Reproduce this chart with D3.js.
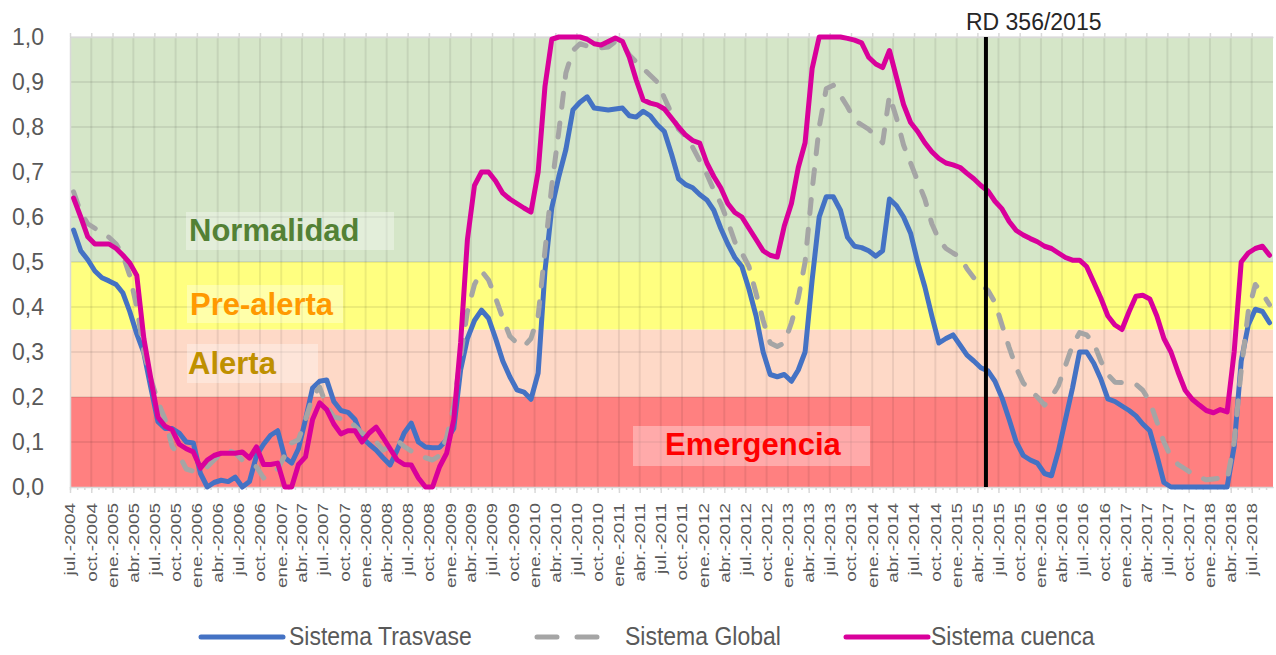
<!DOCTYPE html>
<html lang="es">
<head>
<meta charset="UTF-8">
<title>Indicadores de estado - Sistema Tajo-Segura</title>
<script src="https://d3js.org/d3.v7.min.js"></script>
<style>
  body { margin: 0; background: #fff; }
  svg text { font-family: "Liberation Sans", Arial, sans-serif; }
  .axis text { fill: #595959; }
  .axis path, .axis line { stroke: #d9d9d9; }
</style>
</head>
<body>
<svg width="1276" height="655"></svg>
<script>
// --- data -----------------------------------------------------------
const startMonth = new Date(2004, 6, 1);   // jul-2004
const endMonth = new Date(2018, 9, 1);     // axis ends after sep-2018
const monthAbbr = ["ene.", "feb.", "mar.", "abr.", "may.", "jun.",
                   "jul.", "ago.", "sept.", "oct.", "nov.", "dic."];
const yTicks = [0, 0.1, 0.2, 0.3, 0.4, 0.5, 0.6, 0.7, 0.8, 0.9, 1.0];
const levels = [0, 0.2, 0.35, 0.5, 1.0];
const levelNames = ["Emergencia", "Alerta", "Pre-alerta", "Normalidad"];
const rdDate = new Date(2015, 4, 8);
const rdLabel = "RD 356/2015";
const seriesNames = ["Sistema Trasvase", "Sistema Global", "Sistema cuenca"];

// monthly values, jul-2004 .. sep-2018
const trasvase = [
  0.571, 0.525, 0.505, 0.48, 0.465, 0.458, 0.45, 0.431, 0.39, 0.34, 0.298, 0.22,
  0.145, 0.13, 0.13, 0.12, 0.10, 0.098, 0.03, 0.0, 0.01, 0.015, 0.012, 0.022,
  0.0, 0.012, 0.07, 0.095, 0.115, 0.125, 0.065, 0.053, 0.085, 0.15, 0.22, 0.235,
  0.238, 0.19, 0.17, 0.166, 0.15, 0.11, 0.095, 0.082, 0.065, 0.049, 0.082, 0.12,
  0.142, 0.10, 0.089, 0.087, 0.088, 0.105, 0.13, 0.26, 0.33, 0.37, 0.393, 0.375,
  0.33, 0.28, 0.245, 0.216, 0.211, 0.195, 0.253, 0.48, 0.62, 0.69, 0.75, 0.838,
  0.855, 0.867, 0.842, 0.84, 0.838, 0.84, 0.842, 0.825, 0.822, 0.835, 0.825, 0.805,
  0.79, 0.74, 0.685, 0.672, 0.665, 0.65, 0.638, 0.615, 0.575, 0.54, 0.51, 0.49,
  0.44, 0.38, 0.30, 0.25, 0.245, 0.25, 0.235, 0.26, 0.30, 0.46, 0.60, 0.645,
  0.645, 0.615, 0.555, 0.535, 0.532, 0.525, 0.513, 0.525, 0.64, 0.625, 0.60, 0.564,
  0.50, 0.445, 0.38, 0.32, 0.33, 0.338, 0.315, 0.293, 0.28, 0.265, 0.258, 0.235,
  0.198, 0.15, 0.10, 0.07, 0.06, 0.053, 0.03, 0.025, 0.08, 0.15, 0.22, 0.30,
  0.30, 0.275, 0.24, 0.196, 0.19, 0.18, 0.17, 0.158, 0.14, 0.125, 0.07, 0.01,
  0, 0, 0, 0, 0, 0, 0, 0, 0, 0.09, 0.28, 0.36,
  0.395, 0.39, 0.365
];
const sistemaGlobal = [
  0.656, 0.61, 0.585, 0.575, 0.565, 0.555, 0.54, 0.515, 0.47, 0.40, 0.30, 0.24,
  0.19, 0.15, 0.09, 0.07, 0.04, 0.035, 0.04, 0.045, 0.06, 0.075, 0.082, 0.075,
  0.06, 0.05, 0.045, 0.02, 0.03, 0.04, 0.07, 0.098, 0.105, 0.15, 0.20, 0.222,
  0.18, 0.156, 0.152, 0.15, 0.135, 0.12, 0.111, 0.10, 0.082, 0.09, 0.104, 0.09,
  0.08, 0.07, 0.065, 0.06, 0.07, 0.11, 0.18, 0.29, 0.39, 0.45, 0.48, 0.46,
  0.42, 0.375, 0.335, 0.32, 0.312, 0.33, 0.38, 0.525, 0.67, 0.79, 0.92, 0.97,
  0.985, 0.98, 0.976, 0.976, 0.978, 0.99, 0.985, 0.96, 0.945, 0.93, 0.915, 0.90,
  0.865, 0.83, 0.795, 0.78, 0.755, 0.725, 0.695, 0.66, 0.63, 0.59, 0.545, 0.52,
  0.49, 0.43, 0.37, 0.32, 0.312, 0.32, 0.365, 0.42, 0.50, 0.66, 0.80, 0.885,
  0.893, 0.87, 0.845, 0.815, 0.805, 0.795, 0.78, 0.765, 0.87, 0.82, 0.76, 0.72,
  0.68, 0.64, 0.585, 0.55, 0.53, 0.52, 0.511, 0.485, 0.465, 0.45, 0.437, 0.41,
  0.36, 0.31, 0.265, 0.231, 0.215, 0.20, 0.182, 0.20, 0.225, 0.27, 0.315, 0.343,
  0.338, 0.32, 0.28, 0.25, 0.233, 0.232, 0.231, 0.228, 0.215, 0.19, 0.145, 0.10,
  0.067, 0.05, 0.04, 0.03, 0.022, 0.016, 0.018, 0.02, 0.016, 0.10, 0.26, 0.39,
  0.45, 0.43, 0.405
];
const cuenca = [
  0.642, 0.60, 0.556, 0.54, 0.54, 0.54, 0.53, 0.515, 0.498, 0.47, 0.33, 0.24,
  0.155, 0.135, 0.127, 0.095, 0.085, 0.078, 0.042, 0.06, 0.07, 0.075, 0.075, 0.075,
  0.078, 0.064, 0.089, 0.05, 0.05, 0.053, 0.0, 0.0, 0.05, 0.067, 0.15, 0.187,
  0.172, 0.14, 0.118, 0.125, 0.125, 0.10, 0.12, 0.133, 0.11, 0.085, 0.06, 0.05,
  0.049, 0.02, 0.0, 0.0, 0.045, 0.075, 0.15, 0.32, 0.55, 0.67, 0.70, 0.70,
  0.68, 0.653, 0.64, 0.63, 0.62, 0.611, 0.70, 0.89, 0.995, 1.0, 1.0, 1.0,
  1.0, 0.995, 0.985, 0.982, 0.99, 0.998, 0.99, 0.955, 0.905, 0.86, 0.853, 0.849,
  0.84, 0.82, 0.80, 0.782, 0.77, 0.764, 0.72, 0.69, 0.665, 0.63, 0.61, 0.60,
  0.575, 0.55, 0.525, 0.515, 0.511, 0.58, 0.63, 0.71, 0.765, 0.93, 1.0, 1.0,
  1.0, 1.0, 0.997, 0.993, 0.987, 0.955, 0.94, 0.932, 0.97, 0.91, 0.85, 0.81,
  0.79, 0.765, 0.745, 0.73, 0.72, 0.716, 0.71, 0.697, 0.685, 0.67, 0.658, 0.635,
  0.618, 0.59, 0.57, 0.56, 0.552, 0.545, 0.535, 0.53, 0.52, 0.51, 0.504, 0.504,
  0.49, 0.455, 0.42, 0.38, 0.36, 0.35, 0.39, 0.424, 0.426, 0.418, 0.38, 0.33,
  0.30, 0.255, 0.215, 0.195, 0.182, 0.17, 0.165, 0.172, 0.167, 0.30, 0.50, 0.52,
  0.53, 0.535, 0.515
];

// --- layout ---------------------------------------------------------
const svg = d3.select("svg");
const m = { left: 70, top: 37, right: 1273, bottom: 487 };

const x = d3.scaleTime().domain([startMonth, endMonth]).range([m.left, m.right]);
const y = d3.scaleLinear().domain([0, 1]).range([m.bottom, m.top]);

const months = d3.timeMonths(startMonth, endMonth);
const quarters = months.filter(d => d.getMonth() % 3 === 0);
const midMonth = d => new Date((+d + +d3.timeMonth.offset(d, 1)) / 2);

const bandColors = ["#ff8080", "#fed9c7", "#ffff80", "#d5e6c8"];

// background bands
svg.append("g").selectAll("rect")
  .data(levelNames)
  .join("rect")
  .attr("x", m.left)
  .attr("width", m.right - m.left)
  .attr("y", (d, i) => y(levels[i + 1]))
  .attr("height", (d, i) => y(levels[i]) - y(levels[i + 1]))
  .attr("fill", (d, i) => bandColors[i]);

// gridlines (darker shade of whatever band is under them)
const grid = svg.append("g")
  .attr("stroke", "#000")
  .attr("stroke-opacity", 0.075)
  .attr("stroke-width", 2);
grid.selectAll(".h")
  .data(yTicks.filter(v => v > 0))
  .join("line")
  .attr("x1", m.left).attr("x2", m.right)
  .attr("y1", d => y(d)).attr("y2", d => y(d));
grid.selectAll(".v")
  .data(quarters.filter(d => +d > +startMonth))
  .join("line")
  .attr("x1", d => x(d)).attr("x2", d => x(d))
  .attr("y1", m.top).attr("y2", m.bottom);

// axes
svg.append("g")
  .attr("class", "axis")
  .attr("transform", `translate(0,${m.top})`)
  .call(d3.axisTop(x).tickValues(quarters).tickSize(4).tickSizeOuter(0).tickFormat(""))
  .call(g => g.selectAll("path,line").attr("stroke-width", 1.5));

svg.append("g")
  .attr("class", "axis")
  .attr("transform", `translate(0,${m.bottom})`)
  .call(d3.axisBottom(x).tickValues(months).tickSize(3).tickSizeOuter(0).tickFormat(""))
  .call(g => g.selectAll("line").attr("stroke-width", 1.5));

const xAxis = svg.append("g")
  .attr("class", "axis")
  .attr("transform", `translate(0,${m.bottom})`)
  .call(d3.axisBottom(x).tickValues(quarters).tickSize(6).tickSizeOuter(0)
    .tickFormat(d => `${monthAbbr[d.getMonth()]}-${d.getFullYear()}`));
xAxis.selectAll("path,line").attr("stroke-width", 1.5);
xAxis.selectAll("text")
  .attr("font-size", 14)
  .attr("transform", "rotate(-90) scale(1.35,1)")
  .attr("x", -16 / 1.35)
  .attr("y", 0)
  .attr("dy", "0.35em")
  .style("text-anchor", "end");

svg.append("g")
  .attr("class", "axis")
  .attr("transform", `translate(${m.left},0)`)
  .call(d3.axisLeft(y).tickValues(yTicks).tickSize(0).tickSizeOuter(0).tickPadding(26)
    .tickFormat(v => d3.format(".1f")(v).replace(".", ",")))
  .call(g => g.select("path").attr("stroke-width", 1.5))
  .call(g => g.selectAll("text").attr("font-size", 23));

// level labels
const levelLabels = [
  { name: "Normalidad", color: "#538135", tx: 189, ty: 241, box: [186, 212, 208, 38] },
  { name: "Pre-alerta", color: "#ff9900", tx: 190, ty: 315, box: [187, 285, 156, 38] },
  { name: "Alerta",     color: "#bf9000", tx: 188, ty: 374, box: [187, 344, 131, 39] },
  { name: "Emergencia", color: "#ff0000", tx: 665, ty: 455, box: [633, 426, 237, 40] }
];
const lab = svg.append("g").selectAll("g").data(levelLabels).join("g");
lab.append("rect")
  .attr("x", d => d.box[0]).attr("y", d => d.box[1])
  .attr("width", d => d.box[2]).attr("height", d => d.box[3])
  .attr("fill", "#fff").attr("fill-opacity", 0.33);
lab.append("text")
  .attr("x", d => d.tx).attr("y", d => d.ty)
  .attr("font-size", 31).attr("font-weight", "bold")
  .attr("fill", d => d.color)
  .text(d => d.name);

// series lines
const series = [
  { name: seriesNames[0], values: trasvase, color: "#4472c4", dash: null },
  { name: seriesNames[1], values: sistemaGlobal, color: "#a5a5a5", dash: "14,16" },
  { name: seriesNames[2], values: cuenca, color: "#d9009b", dash: null }
];
const line = d3.line()
  .x((v, i) => x(midMonth(months[i])))
  .y(v => y(v));

svg.append("g").selectAll("path")
  .data(series)
  .join("path")
  .attr("d", d => line(d.values))
  .attr("fill", "none")
  .attr("stroke", d => d.color)
  .attr("stroke-width", 5)
  .attr("stroke-linejoin", "round")
  .attr("stroke-linecap", "round")
  .attr("stroke-dasharray", d => d.dash);

// RD 356/2015 marker
svg.append("line")
  .attr("x1", x(rdDate)).attr("x2", x(rdDate))
  .attr("y1", m.top).attr("y2", m.bottom)
  .attr("stroke", "#000").attr("stroke-width", 4);
svg.append("text")
  .attr("x", x(rdDate) - 20).attr("y", 30)
  .attr("font-size", 23).attr("fill", "#262626")
  .text(rdLabel);

// legend
const legendY = 637;
const legendItems = [
  { s: series[0], x1: 201, x2: 283, tx: 289, dash: null },
  { s: series[1], x1: 537, x2: 597, tx: 625, dash: "20,20" },
  { s: series[2], x1: 846, x2: 928, tx: 931, dash: null }
];
const leg = svg.append("g").selectAll("g").data(legendItems).join("g");
leg.append("line")
  .attr("x1", d => d.x1).attr("x2", d => d.x2)
  .attr("y1", legendY).attr("y2", legendY)
  .attr("stroke", d => d.s.color)
  .attr("stroke-width", 5)
  .attr("stroke-linecap", "round")
  .attr("stroke-dasharray", d => d.dash);
leg.append("text")
  .attr("transform", d => `translate(${d.tx},${legendY + 8}) scale(1,1.12)`)
  .attr("font-size", 23)
  .attr("fill", "#595959")
  .text(d => d.s.name);
</script>
</body>
</html>
